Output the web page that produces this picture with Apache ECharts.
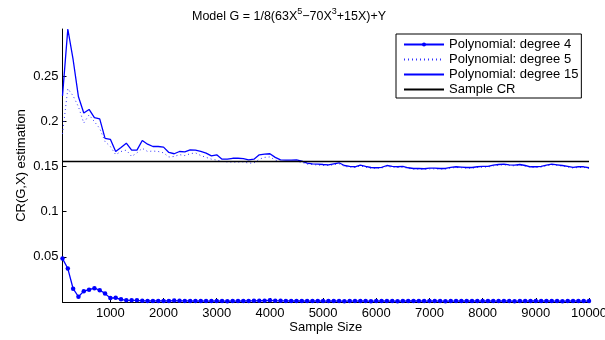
<!DOCTYPE html>
<html><head><meta charset="utf-8">
<script src="https://cdn.jsdelivr.net/npm/echarts@6/dist/echarts.min.js"></script>
<style>html,body{margin:0;padding:0;background:#fff}#c{width:605px;height:340px}</style>
</head><body><div id="c"></div>
<script>
// x grid: sample sizes 100..10000 step 100
const sampleSizes = Array.from({length: 100}, (_, i) => (i + 1) * 100);
const xTicks = [1000, 2000, 3000, 4000, 5000, 6000, 7000, 8000, 9000, 10000];
const yTicks = [0.05, 0.1, 0.15, 0.2, 0.25];
const sampleCR = 0.1554;

const deg4 = [
  0.048,0.037,0.0147,0.0058,0.012,0.0136,0.0153,0.013,0.0095,0.0043,
  0.0047,0.003,0.0018,0.0019,0.0019,0.0013,0.0012,0.0011,0.0012,0.0012,
  0.0011,0.0016,0.0013,0.0012,0.0011,0.001,0.0011,0.001,0.001,0.0011,
  0.001,0.0009,0.001,0.001,0.0011,0.0012,0.0013,0.0014,0.0015,0.0019,
  0.0015,0.0013,0.0012,0.0011,0.0012,0.0011,0.001,0.001,0.0011,0.001,
  0.001,0.0011,0.001,0.0009,0.001,0.001,0.0011,0.001,0.0009,0.001,
  0.0011,0.001,0.001,0.0009,0.001,0.0011,0.0012,0.0011,0.001,0.001,
  0.0011,0.001,0.0009,0.001,0.001,0.0011,0.001,0.0011,0.001,0.001,
  0.0012,0.001,0.001,0.0011,0.001,0.0009,0.001,0.001,0.0011,0.0012,
  0.001,0.0011,0.001,0.001,0.0009,0.001,0.0011,0.001,0.001,0.001
];
const deg5 = [
  0.186,0.236,0.228,0.216,0.198,0.207,0.1995,0.192,0.1775,0.172,
  0.163,0.1665,0.168,0.161,0.165,0.170,0.1665,0.167,0.1665,0.165,
  0.1604,0.161,0.163,0.162,0.164,0.165,0.162,0.160,0.158,0.157,
  0.1555,0.155,0.1548,0.1548,0.155,0.1536,0.1538,0.158,0.160,0.1605,
  0.157,0.1555,0.1554,0.1556,0.1555,0.1545,0.1525,0.152,0.1515,0.151,
  0.151,0.1518,0.153,0.150,0.1492,0.1488,0.1505,0.149,0.148,0.1478,
  0.1482,0.150,0.1492,0.1488,0.1492,0.1478,0.147,0.147,0.1466,0.1472,
  0.1472,0.147,0.147,0.1482,0.1488,0.1485,0.148,0.148,0.1488,0.1492,
  0.1493,0.1506,0.1513,0.1517,0.151,0.1506,0.1513,0.1503,0.149,0.1488,
  0.1492,0.1506,0.1517,0.151,0.1503,0.1493,0.1482,0.1488,0.1489,0.1478
];
const deg15 = [
  0.228,0.302,0.268,0.227,0.209,0.213,0.204,0.2025,0.181,0.180,
  0.1665,0.171,0.1757,0.168,0.168,0.1786,0.1746,0.172,0.172,0.1713,
  0.1654,0.164,0.1665,0.1661,0.1683,0.168,0.1665,0.1647,0.1617,0.1628,
  0.158,0.158,0.159,0.159,0.1587,0.1573,0.158,0.1628,0.1635,0.164,
  0.160,0.1573,0.157,0.157,0.1573,0.1558,0.1536,0.1529,0.1525,0.1521,
  0.1518,0.1529,0.154,0.151,0.150,0.1496,0.1514,0.150,0.1488,0.1485,
  0.149,0.151,0.150,0.1496,0.150,0.1485,0.1477,0.1477,0.1474,0.148,
  0.148,0.1477,0.1477,0.149,0.1496,0.1492,0.1488,0.1488,0.1496,0.150,
  0.150,0.1514,0.1521,0.1525,0.1518,0.1514,0.1521,0.151,0.1496,0.1496,
  0.150,0.1514,0.1525,0.1518,0.151,0.150,0.149,0.1496,0.1496,0.1485
];

const pair = arr => arr.map((v, i) => [sampleSizes[i], v]);
const FONT = 'Liberation Sans';
const chart = echarts.init(document.getElementById('c'), null, {renderer: 'canvas'});
chart.setOption({
  animation: false,
  backgroundColor: '#fff',
  textStyle: {fontFamily: FONT},
  title: {
    text: '{a|Model G = 1/8(63X}{s|5}{a|\u221270X}{s|3}{a|+15X)+Y}',
    left: 187, top: 2,
    textStyle: {
      fontFamily: FONT, fontWeight: 'normal',
      rich: {
        a: {fontFamily: FONT, fontSize: 12.5, fontWeight: 'normal', color: '#000', verticalAlign: 'bottom', lineHeight: 16},
        s: {fontFamily: FONT, fontSize: 9, fontWeight: 'normal', color: '#000', verticalAlign: 'top', lineHeight: 16, padding: [0, 0, 6, 0]}
      }
    }
  },
  legend: {
    left: 396, top: 34, orient: 'vertical',
    backgroundColor: '#fff', borderColor: '#000', borderWidth: 1, borderRadius: 0,
    padding: [4, 3, 2, 7],
    itemWidth: 40, itemHeight: 5, itemGap: 2,
    textStyle: {fontFamily: FONT, fontSize: 13, color: '#000'},
    data: [
      {name: 'Polynomial: degree 4'},
      {name: 'Polynomial: degree 5', itemStyle: {opacity: 0}},
      {name: 'Polynomial: degree 15', itemStyle: {opacity: 0}},
      {name: 'Sample CR', itemStyle: {opacity: 0}}
    ]
  },
  grid: {left: 62.5, right: 16, top: 29, bottom: 38, containLabel: false, outerBoundsMode: 'none'},
  xAxis: {
    type: 'value', min: 100, max: 10000,
    name: 'Sample Size', nameLocation: 'middle', nameGap: 19, nameMoveOverlap: false,
    nameTextStyle: {fontFamily: FONT, fontSize: 13, color: '#000'},
    axisLine: {show: true, onZero: false, lineStyle: {color: '#000', width: 1}},
    axisTick: {show: true, inside: true, length: 4, customValues: xTicks, lineStyle: {color: '#000'}},
    axisLabel: {customValues: xTicks, fontFamily: FONT, fontSize: 13, color: '#000', margin: 5,
      formatter: v => String(Math.round(v))},
    splitLine: {show: false}
  },
  yAxis: {
    type: 'value', min: 0, max: 0.302,
    name: 'CR(G,X) estimation', nameLocation: 'middle', nameGap: 35, nameMoveOverlap: false,
    nameTextStyle: {fontFamily: FONT, fontSize: 13, color: '#000'},
    axisLine: {show: true, onZero: false, lineStyle: {color: '#000', width: 1}},
    axisTick: {show: true, inside: true, length: 4, customValues: yTicks, lineStyle: {color: '#000'}},
    axisLabel: {customValues: yTicks, fontFamily: FONT, fontSize: 13, color: '#000', margin: 4,
      formatter: v => String(+v.toFixed(2))},
    splitLine: {show: false}
  },
  series: [
    {
      name: 'Polynomial: degree 4', type: 'line', data: pair(deg4),
      symbol: 'circle', symbolSize: 4.5, showSymbol: true,
      itemStyle: {color: '#0000ff'}, lineStyle: {color: '#0000ff', width: 1.3}, z: 3
    },
    {
      name: 'Polynomial: degree 5', type: 'line', data: pair(deg5), symbol: 'none',
      itemStyle: {color: '#0000ff'}, lineStyle: {color: '#3333ff', width: 1, type: [1, 3]}, z: 2
    },
    {
      name: 'Polynomial: degree 15', type: 'line', data: pair(deg15), symbol: 'none',
      itemStyle: {color: '#0000ff'}, lineStyle: {color: '#0000ff', width: 1.3}, z: 3
    },
    {
      name: 'Sample CR', type: 'line', data: [[sampleSizes[0], sampleCR], [sampleSizes[sampleSizes.length - 1], sampleCR]],
      symbol: 'none', itemStyle: {color: '#000'}, lineStyle: {color: '#000', width: 1.3}, z: 4
    }
  ]
});
</script>
</body></html>
